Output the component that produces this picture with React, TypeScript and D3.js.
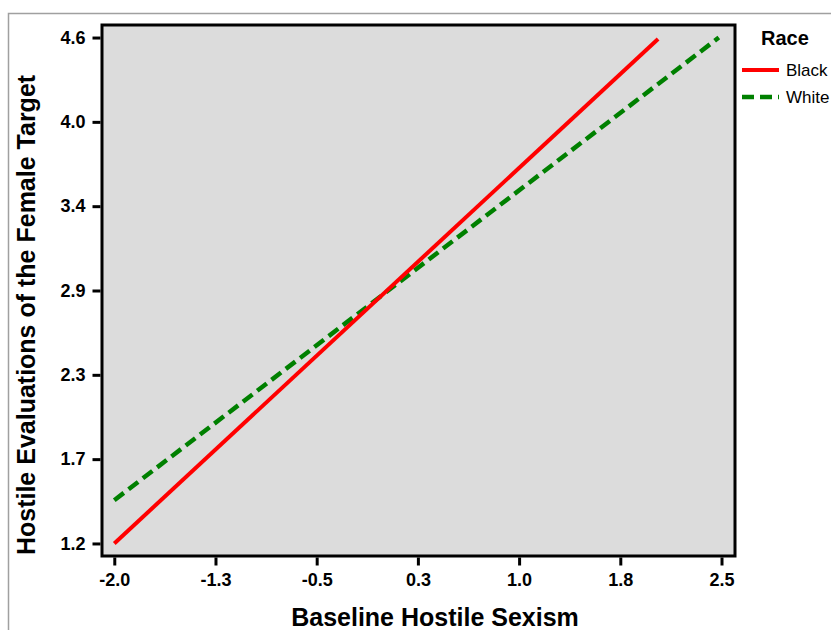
import { useEffect, useRef } from "react";
import * as d3 from "d3";

// x ticks of the chart (labels as printed)
const xTickValues = [-2.0, -1.25, -0.5, 0.25, 1.0, 1.75, 2.5];
const xTickLabels = ["-2.0", "-1.3", "-0.5", "0.3", "1.0", "1.8", "2.5"];

// y ticks (evenly spaced, labels rounded as printed)
const yTickValues = [1.17, 1.735, 2.3, 2.865, 3.43, 3.995, 4.56];
const yTickLabels = ["1.2", "1.7", "2.3", "2.9", "3.4", "4.0", "4.6"];

// simple slopes, start / end of each line
const raceNames = ["Black", "White"];
const blackLine = [
  { x: -2.0, y: 1.17 },
  { x: 2.03, y: 4.55 },
];
const whiteLine = [
  { x: -2.0, y: 1.46 },
  { x: 2.48, y: 4.56 },
];

export default function App() {
  const ref = useRef<SVGSVGElement>(null);

  useEffect(() => {
    const svg = d3.select(ref.current);
    svg.selectAll("*").remove();

    const left = 102;
    const right = 735;
    const top = 25;
    const bottom = 556;
    const font = "Arial, 'Liberation Sans', sans-serif";

    const x = d3.scaleLinear().domain([-2.091, 2.6]).range([left, right]);
    const y = d3.scaleLinear().domain([1.086, 4.644]).range([bottom, top]);

    // outer frame (cropped)
    svg
      .append("path")
      .attr("d", "M8.5,640 L8.5,13.5 L840,13.5")
      .attr("fill", "none")
      .attr("stroke", "#a0a0a0")
      .attr("stroke-width", 1.5);

    svg
      .append("rect")
      .attr("x", left)
      .attr("y", top)
      .attr("width", right - left)
      .attr("height", bottom - top)
      .attr("fill", "#dcdcdc")
      .attr("stroke", "#000")
      .attr("stroke-width", 3);

    const line = d3
      .line<{ x: number; y: number }>()
      .x((d) => x(d.x))
      .y((d) => y(d.y));

    svg
      .append("path")
      .datum(whiteLine)
      .attr("d", line)
      .attr("fill", "none")
      .attr("stroke", "#008000")
      .attr("stroke-width", 4.5)
      .attr("stroke-dasharray", "12,6");

    svg
      .append("path")
      .datum(blackLine)
      .attr("d", line)
      .attr("fill", "none")
      .attr("stroke", "#ff0000")
      .attr("stroke-width", 4);

    // x axis
    const xAxis = svg
      .append("g")
      .attr("transform", `translate(0,${bottom + 1.5})`)
      .call(
        d3
          .axisBottom(x)
          .tickValues(xTickValues)
          .tickFormat((d, i) => xTickLabels[i])
          .tickSize(8)
          .tickPadding(8)
      );
    xAxis.select(".domain").remove();
    xAxis.selectAll(".tick line").attr("stroke", "#000").attr("stroke-width", 3);
    xAxis
      .selectAll(".tick text")
      .attr("fill", "#000")
      .style("font", `bold 18px ${font}`);

    // y axis
    const yAxis = svg
      .append("g")
      .attr("transform", `translate(${left - 1.5},0)`)
      .call(
        d3
          .axisLeft(y)
          .tickValues(yTickValues)
          .tickFormat((d, i) => yTickLabels[i])
          .tickSize(8)
          .tickPadding(7)
      );
    yAxis.select(".domain").remove();
    yAxis.selectAll(".tick line").attr("stroke", "#000").attr("stroke-width", 3);
    yAxis
      .selectAll(".tick text")
      .attr("fill", "#000")
      .style("font", `bold 18px ${font}`);

    // axis titles
    svg
      .append("text")
      .attr("x", 435)
      .attr("y", 626)
      .attr("text-anchor", "middle")
      .style("font", `bold 25px ${font}`)
      .text("Baseline Hostile Sexism");

    svg
      .append("text")
      .attr("transform", `translate(35,315) rotate(-90)`)
      .attr("text-anchor", "middle")
      .style("font", `bold 25px ${font}`)
      .text("Hostile Evaluations of the Female Target");

    // legend
    const legend = svg.append("g").attr("transform", "translate(742,0)");
    legend
      .append("text")
      .attr("x", 19)
      .attr("y", 45)
      .style("font", `bold 20px ${font}`)
      .text("Race");

    const legendStyles = [
      { color: "#ff0000", dash: null, width: 4 },
      { color: "#008000", dash: "12,6", width: 4.5 },
    ];
    raceNames.forEach((name, i) => {
      const yy = 70 + i * 27;
      legend
        .append("line")
        .attr("x1", 0)
        .attr("x2", 37)
        .attr("y1", yy)
        .attr("y2", yy)
        .attr("stroke", legendStyles[i].color)
        .attr("stroke-width", legendStyles[i].width)
        .attr("stroke-dasharray", legendStyles[i].dash);
      legend
        .append("text")
        .attr("x", 44)
        .attr("y", yy + 6)
        .style("font", `17px ${font}`)
        .text(name);
    });
  }, []);

  return (
    <svg
      ref={ref}
      width={831}
      height={630}
      style={{ position: "absolute", left: 0, top: 0, background: "#fff" }}
    ></svg>
  );
}
